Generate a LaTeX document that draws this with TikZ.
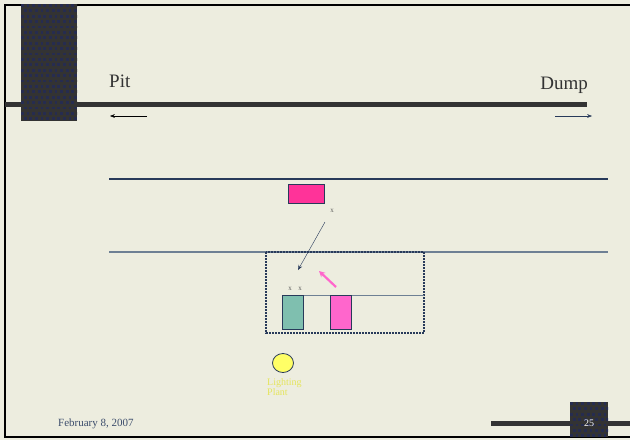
\documentclass[tikz,border=0pt]{standalone}
\usepackage{fontspec}
\setmainfont{Liberation Serif}
\usetikzlibrary{arrows.meta, shapes.geometric}

\definecolor{paper}{RGB}{237,237,223}
\definecolor{barc}{RGB}{51,51,51}
\definecolor{dotc}{RGB}{38,44,80}
\definecolor{navy}{RGB}{40,58,90}
\definecolor{slate}{RGB}{110,128,148}
\definecolor{hotpink}{RGB}{255,51,153}
\definecolor{lightpink}{RGB}{255,102,204}
\definecolor{teal}{RGB}{127,191,175}
\definecolor{lamp}{RGB}{255,255,102}
\definecolor{datec}{RGB}{59,76,107}

% dotted dark tile: \tile{x1}{y1}{x2}{y2}
\newcommand{\tile}[4]{%
  \fill[barc] (#1,#2) rectangle (#3,#4);
  \begin{scope}
    \clip (#1,#2) rectangle (#3,#4);
    \foreach \i in {0,...,12} {
      \foreach \j in {0,...,22} {
        \pgfmathsetmacro{\px}{#1 + \i*5.6 + mod(\j,2)*2.8}
        \pgfmathsetmacro{\py}{#2 + \j*5.4}
        \fill[dotc] (\px,\py) rectangle ++(2.8,2.8);
      }
    }
  \end{scope}}

\begin{document}
\begin{tikzpicture}[x=1pt, y=-1pt, >=Stealth,
      truck/.style={draw=navy, line width=1pt, inner sep=0pt},
      xmark/.style={font=\fontsize{7}{7}\selectfont, text=barc!80, inner sep=0pt},
      rail/.style={line width=1.2pt},
      lbl/.style={font=\fontsize{19}{19}\selectfont, text=barc, inner sep=0pt}]

    % ---- Page ----
    \fill[paper] (0,0) rectangle (630,440);
    \useasboundingbox (0,0) rectangle (630,440);
    \draw[line width=2pt, black] (630,4.5) -- (5,4.5) -- (5,437) -- (630,437);

    % ---- Title decoration ----
    \tile{21}{4}{77}{121}
    \fill[barc] (77,102) rectangle (587,107);
    \fill[barc] (5,102) rectangle (21,107);
    \node[lbl, anchor=base west] (pit) at (109,87) {Pit};
    \node[lbl, anchor=base east] (dump) at (588,89) {Dump};
    \coordinate (pitS) at (147,116);
    \coordinate (pitE) at (110,116);
    \coordinate (dumpS) at (555,116);
    \coordinate (dumpE) at (592,116);
    \draw[->, black, thin] (pitS) -- (pitE);
    \draw[->, navy, thin] (dumpS) -- (dumpE);

    % ---- Haul road ----
    \coordinate (roadTL) at (109,179);
    \coordinate (roadTR) at (608,179);
    \coordinate (roadBL) at (109,252);
    \coordinate (roadBR) at (608,252);
    \draw[rail, navy] (roadTL) -- (roadTR);
    \draw[rail, slate] (roadBL) -- (roadBR);

    % ---- Loaded truck ----
    \node[truck, fill=hotpink, minimum width=36pt, minimum height=19pt] (truckA) at (306,193.5) {};
    \node[xmark] (xA) at (332,211) {x};
    \coordinate (moveS) at (325,222);
    \coordinate (moveE) at (298,270);
    \draw[-{Stealth[length=5pt, width=4pt]}, navy, thin] (moveS) -- (moveE);

    % ---- Loading bay ----
    \draw[navy, line width=1.1pt, dash pattern=on 1.6pt off 1.4pt] (266,252) rectangle (424,333);
    \coordinate (bayL) at (303,295);
    \coordinate (bayR) at (424,295);
    \draw[slate, line width=0.8pt] (bayL) -- (bayR);
    \node[truck, fill=teal, minimum width=21pt, minimum height=34pt] (truckB) at (292.5,312) {};
    \node[truck, fill=lightpink, minimum width=21pt, minimum height=34pt] (truckC) at (340.5,312) {};
    \node[xmark] (xB) at (290,288.5) {x};
    \node[xmark] (xC) at (300,288.5) {x};
    \coordinate (backS) at (336,287);
    \coordinate (backE) at (319,271);
    \draw[-{Stealth[length=6pt, width=6pt]}, lightpink, line width=2.2pt] (backS) -- (backE);

    % ---- Lighting plant ----
    \node[draw=navy, fill=lamp, ellipse, minimum width=21pt, minimum height=19pt, inner sep=0pt, line width=0.8pt] (lamp) at (283,363) {};
    \node[anchor=north west, align=left, text=lamp!90!black, inner sep=0pt,
          font=\fontsize{10}{10}\selectfont] (lampT) at (267,378) {Lighting\\Plant};

    % ---- Footer ----
    \node[anchor=base west, text=datec, inner sep=0pt, font=\fontsize{11}{11}\selectfont] (date) at (58,426) {February 8, 2007};
    \fill[barc] (491,421) rectangle (630,426);
    \tile{570}{402}{608}{437}
    \node[text=white!85!paper, font=\fontsize{10}{10}\selectfont, inner sep=0pt] (page) at (589,423) {25};

    \end{tikzpicture}
\end{document}
